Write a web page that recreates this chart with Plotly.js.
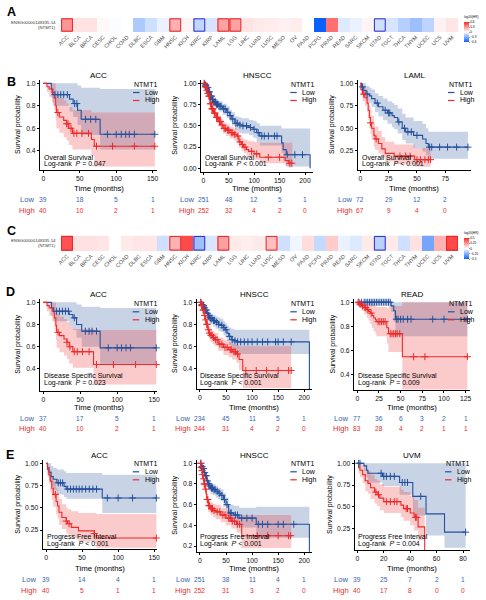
<!DOCTYPE html>
<html><head><meta charset="utf-8">
<script src="https://cdn.plot.ly/plotly-3.0.1.min.js"></script>
<style>body{margin:0;padding:0;background:#fff}#chart{width:486px;height:600px}</style>
</head><body><div id="chart"></div>
<script>
// ---------------- DATA ----------------
const cancers = ['ACC','BLCA','BRCA','CESC','CHOL','COAD','DLBC','ESCA','GBM','HNSC','KICH','KIRC','KIRP','LAML','LGG','LIHC','LUAD','LUSC','MESO','OV','PAAD','PCPG','PRAD','READ','SARC','SKCM','STAD','TGCT','THCA','THYM','UCEC','UCS','UVM'];
const hrA = [0.30,0.08,0.08,0.02,-0.01,0.0,-0.20,-0.12,-0.05,0.22,0.03,-0.15,-0.10,0.26,0.26,0.08,0.06,0.05,0.04,0.05,0.0,-0.60,0.40,-0.08,-0.05,0.03,-0.12,-0.10,-0.18,-0.24,-0.16,0.04,0.07];
const sigA = [1,0,0,0,0,0,0,0,0,1,0,-1,0,1,1,0,0,0,0,0,0,0,0,0,0,0,-1,0,0,0,0,0,0];
const hrC = [0.40,0.07,0.07,0.06,0.0,0.05,0.06,0.06,-0.10,0.18,0.42,-0.20,-0.08,0.22,0.05,0.04,0.05,0.15,-0.10,-0.03,0.08,-0.12,0.12,-0.04,-0.07,0.05,-0.14,0.05,-0.10,0.07,-0.28,0.18,0.42];
const sigC = [1,0,0,0,0,0,0,0,0,1,0,-1,0,1,0,0,0,1,0,0,0,0,0,0,0,0,-1,0,0,0,0,0,1];

// B ACC (Overall Survival)
const bAccLowT = [0,11,13,36,41,47,52,78,153];
const bAccLowS = [1,0.95,0.90,0.86,0.82,0.76,0.68,0.546,0.546];
const bAccLowUp = [1,1,1,1,1,0.98,0.96,0.95,0.95];
const bAccLowLo = [1,0.87,0.80,0.75,0.70,0.63,0.54,0.41,0.41];
const bAccLowCens = [16,20,24,28,33,43,46,58,65,72,88,100,107,113,118,125,153];
const bAccHighT = [0,5,8,12,15,17,18,22,28,32,35,40,66,70,153];
const bAccHighS = [1,0.97,0.95,0.92,0.87,0.80,0.74,0.70,0.67,0.64,0.60,0.555,0.50,0.44,0.44];
const bAccHighUp = [1,1,1,1,1,0.95,0.90,0.87,0.85,0.82,0.79,0.76,0.74,0.74,0.74];
const bAccHighLo = [1,0.92,0.88,0.83,0.76,0.67,0.60,0.56,0.52,0.49,0.45,0.41,0.35,0.26,0.26];
const bAccHighCens = [20,32,34,38,42,46,53,62,73,95,125,153];

// B HNSCC
const bHnLowT = [0,3,6,10,13,17,20,25,30,38,46,52,56,62,70,75,90,98,105,111,154,157,163,210];
const bHnLowS = [1,0.98,0.95,0.90,0.85,0.81,0.78,0.755,0.73,0.70,0.66,0.62,0.58,0.53,0.51,0.50,0.48,0.46,0.42,0.38,0.30,0.22,0.16,0];
const bHnLowUp = [1,1,0.98,0.94,0.90,0.86,0.83,0.81,0.79,0.76,0.73,0.69,0.66,0.61,0.60,0.59,0.57,0.56,0.53,0.50,0.47,0.47,0.47,0.47];
const bHnLowLo = [1,0.96,0.92,0.86,0.80,0.76,0.73,0.70,0.67,0.63,0.59,0.55,0.50,0.45,0.42,0.41,0.39,0.36,0.31,0.27,0.18,0.09,0.02,0.02];
const bHnLowCens = [2,4,5,7,9,11,12,14,15,16,18,19,21,23,24,26,28,31,33,35,40,43,48,53,58,64,67,72,78,85,93,100,108,115,120,128,140,145,165,180,195];
const bHnHighT = [0,3,6,8,10,13,16,20,25,30,35,39,45,52,60,66,70,75,79,85,89,100,111,161,168,175];
const bHnHighS = [1,0.96,0.92,0.88,0.85,0.76,0.70,0.65,0.60,0.55,0.51,0.47,0.45,0.42,0.40,0.38,0.31,0.28,0.25,0.22,0.20,0.17,0.13,0.09,0.06,0.06];
const bHnHighUp = [1,0.98,0.95,0.92,0.89,0.81,0.76,0.71,0.66,0.62,0.58,0.54,0.52,0.49,0.47,0.45,0.39,0.36,0.34,0.33,0.32,0.31,0.30,0.30,0.30,0.30];
const bHnHighLo = [1,0.94,0.89,0.84,0.81,0.71,0.64,0.59,0.54,0.49,0.45,0.41,0.38,0.35,0.33,0.30,0.24,0.21,0.18,0.15,0.13,0.10,0.06,0.03,0.01,0.01];
const bHnHighCens = [2,4,5,7,9,11,12,14,15,17,18,19,22,23,26,28,32,34,37,41,44,48,50,55,58,62,68,72,77,82,95,105,128,150,170,174];

// B LAML
const bLamlLowT = [0,1,3,5,8,10,13,16,20,24,28,30,33,37,40,47,55,58,60,95];
const bLamlLowS = [1,0.96,0.92,0.88,0.86,0.83,0.78,0.74,0.70,0.67,0.64,0.62,0.57,0.50,0.46,0.42,0.38,0.33,0.29,0.29];
const bLamlLowUp = [1,1,1,0.97,0.95,0.93,0.89,0.86,0.83,0.80,0.78,0.76,0.72,0.66,0.62,0.58,0.55,0.50,0.46,0.46];
const bLamlLowLo = [1,0.92,0.86,0.81,0.78,0.74,0.68,0.63,0.59,0.55,0.51,0.49,0.44,0.37,0.33,0.28,0.24,0.20,0.16,0.16];
const bLamlLowCens = [2,6,15,22,25,26,34,39,42,45,50,61,63,70,77,85,95];
const bLamlHighT = [0,0.5,2,4,6,7,8,9,10,12,13,16,19,22,30,48,62];
const bLamlHighS = [1,0.93,0.88,0.84,0.78,0.70,0.62,0.56,0.50,0.42,0.38,0.33,0.27,0.22,0.19,0.15,0.15];
const bLamlHighUp = [1,1,0.97,0.94,0.89,0.82,0.75,0.70,0.64,0.56,0.52,0.47,0.40,0.35,0.32,0.28,0.28];
const bLamlHighLo = [1,0.87,0.80,0.75,0.68,0.59,0.50,0.44,0.38,0.30,0.26,0.22,0.17,0.13,0.10,0.07,0.07];
const bLamlHighCens = [3,9,14,35,40,44,50,53,57,60,62];

// D ACC (Disease Specific Survival)
const dAccLowT = [0,11,14,35,40,45,52,77,153];
const dAccLowS = [1,0.95,0.92,0.89,0.86,0.80,0.74,0.59,0.59];
const dAccLowUp = [1,1,1,1,1,0.98,0.96,0.95,0.95];
const dAccLowLo = [1,0.88,0.83,0.79,0.75,0.68,0.60,0.44,0.44];
const dAccLowCens = [18,22,26,30,34,42,57,62,66,72,88,100,106,112,118,153];
const dAccHighT = [0,5,8,12,15,17,18,22,28,32,35,40,68,153];
const dAccHighS = [1,0.97,0.95,0.92,0.86,0.79,0.73,0.70,0.67,0.64,0.60,0.555,0.44,0.44];
const dAccHighUp = [1,1,1,1,1,0.95,0.90,0.87,0.85,0.82,0.79,0.76,0.75,0.75];
const dAccHighLo = [1,0.92,0.88,0.83,0.75,0.66,0.59,0.55,0.52,0.49,0.45,0.41,0.26,0.26];
const dAccHighCens = [20,32,36,42,46,53,62,72,95,125,153];

// D HNSCC
const dHnLowT = [0,3,5,8,10,13,15,18,20,25,30,35,40,45,48,52,55,60,65,70,210];
const dHnLowS = [1,0.98,0.97,0.95,0.93,0.90,0.88,0.86,0.85,0.835,0.82,0.80,0.79,0.77,0.75,0.72,0.69,0.66,0.65,0.64,0];
const dHnLowUp = [1,1,0.99,0.98,0.96,0.94,0.92,0.91,0.90,0.885,0.87,0.86,0.85,0.83,0.81,0.79,0.77,0.76,0.75,0.75,0.75];
const dHnLowLo = [1,0.96,0.95,0.92,0.90,0.86,0.84,0.81,0.80,0.78,0.76,0.74,0.73,0.70,0.68,0.65,0.61,0.57,0.55,0.53,0.53];
const dHnLowCens = [2,4,6,7,9,11,12,14,16,17,19,21,23,26,28,32,36,42,46,50,57,62,67,72,78,85,92,100,110,120,130,145,150,160,175];
const dHnHighT = [0,2,5,8,10,12,15,17,20,24,28,35,45,55,62,70,75,82,175];
const dHnHighS = [1,0.97,0.93,0.88,0.84,0.80,0.75,0.72,0.70,0.68,0.66,0.62,0.59,0.57,0.55,0.53,0.48,0.38,0.38];
const dHnHighUp = [1,1,0.96,0.92,0.88,0.85,0.80,0.78,0.76,0.74,0.72,0.68,0.66,0.64,0.62,0.61,0.60,0.60,0.60];
const dHnHighLo = [1,0.95,0.90,0.84,0.80,0.75,0.70,0.67,0.64,0.62,0.60,0.56,0.52,0.50,0.48,0.45,0.39,0.22,0.22];
const dHnHighCens = [1,3,4,6,7,9,11,13,14,16,18,21,23,26,30,33,38,42,48,52,58,60,65,68,72,88,108,128,150,170,175];

// D READ
const dReadLowT = [0,39,42,44,127];
const dReadLowS = [1,0.97,0.93,0.86,0.86];
const dReadLowUp = [1,1,1,1,1];
const dReadLowLo = [1,0.92,0.84,0.72,0.72];
const dReadLowCens = [2,5,8,10,12,14,16,18,20,22,24,26,28,30,32,34,36,38,45,47,50,53,58,62,87,100,127];
const dReadHighT = [0,2,5,8,11,13,15,17,19,21,22,34,36,52,127];
const dReadHighS = [1,0.985,0.97,0.955,0.94,0.925,0.91,0.89,0.87,0.855,0.84,0.79,0.74,0.55,0.55];
const dReadHighUp = [1,1,1,1,1,1,1,0.99,0.98,0.97,0.96,0.95,0.97,1,1];
const dReadHighLo = [1,0.96,0.93,0.90,0.87,0.85,0.82,0.79,0.76,0.74,0.72,0.66,0.59,0.28,0.28];
const dReadHighCens = [1,3,4,6,9,10,12,16,24,26,28,30,32,38,40,42,44,46,49,65,78,127];

// E ACC (Progress Free Interval)
const eAccLowT = [0,2,4,7,10,15,25,28,78,153];
const eAccLowS = [1,0.95,0.90,0.85,0.82,0.78,0.74,0.71,0.61,0.61];
const eAccLowUp = [1,1,1,0.97,0.95,0.93,0.91,0.89,0.87,0.87];
const eAccLowLo = [1,0.88,0.81,0.74,0.70,0.65,0.62,0.60,0.44,0.44];
const eAccLowCens = [17,20,23,30,34,38,42,46,50,55,60,65,70,85,100,120,153];
const eAccHighT = [0,2,4,6,8,10,14,16,18,22,28,30,35,45,67,70,153];
const eAccHighS = [1,0.93,0.87,0.80,0.72,0.65,0.57,0.52,0.45,0.39,0.35,0.32,0.28,0.24,0.21,0.16,0.16];
const eAccHighUp = [1,1,0.97,0.92,0.86,0.80,0.72,0.66,0.60,0.54,0.50,0.48,0.46,0.44,0.44,0.43,0.43];
const eAccHighLo = [1,0.85,0.77,0.68,0.59,0.51,0.43,0.38,0.31,0.26,0.22,0.20,0.16,0.12,0.10,0.05,0.05];
const eAccHighCens = [13,28,32,67,153];

// E HNSCC
const eHnLowT = [0,3,5,8,10,13,15,18,20,25,30,35,40,45,50,55,65,75,108,210];
const eHnLowS = [1,0.97,0.95,0.91,0.88,0.83,0.80,0.78,0.76,0.745,0.73,0.71,0.69,0.65,0.60,0.52,0.50,0.47,0.41,0];
const eHnLowUp = [1,1,0.98,0.95,0.92,0.88,0.85,0.83,0.81,0.80,0.78,0.76,0.75,0.71,0.67,0.60,0.59,0.57,0.58,0.58];
const eHnLowLo = [1,0.95,0.92,0.87,0.83,0.78,0.75,0.73,0.70,0.69,0.67,0.65,0.63,0.58,0.53,0.44,0.41,0.38,0.28,0.28];
const eHnLowCens = [2,4,6,7,9,11,12,14,16,17,19,22,24,27,29,33,37,42,47,52,58,60,68,72,80,90,100,112,120,130,150,160,180];
const eHnHighT = [0,2,3,5,6,8,10,12,13,16,20,25,30,40,50,60,70,80,175];
const eHnHighS = [1,0.96,0.93,0.89,0.85,0.80,0.75,0.70,0.65,0.59,0.56,0.545,0.53,0.50,0.47,0.44,0.41,0.30,0.30];
const eHnHighUp = [1,1,0.97,0.93,0.90,0.85,0.80,0.75,0.71,0.65,0.62,0.61,0.60,0.57,0.54,0.51,0.49,0.50,0.50];
const eHnHighLo = [1,0.92,0.89,0.85,0.80,0.75,0.70,0.65,0.59,0.53,0.50,0.48,0.46,0.43,0.40,0.37,0.33,0.18,0.18];
const eHnHighCens = [1,2,4,5,7,8,9,11,14,15,17,18,22,24,27,33,38,44,48,55,58,62,66,72,76,110,130,150,170,174];

// E UVM
const eUvmLowT = [0,5,7,8,19,32,42,52,66,82];
const eUvmLowS = [1,0.97,0.92,0.886,0.85,0.78,0.62,0.42,0.21,0.21];
const eUvmLowUp = [1,1,1,1,1,1,1,1,1,1];
const eUvmLowLo = [1,0.91,0.84,0.78,0.74,0.64,0.40,0.17,0.03,0.03];
const eUvmLowCens = [1,2,18,20,22,25,28,34,36,38,48,82];
const eUvmHighT = [0,1,2,4,6,8,10,13,15,17,20,33,35,40,43,46,51];
const eUvmHighS = [1,0.95,0.92,0.87,0.80,0.77,0.72,0.67,0.64,0.60,0.56,0.52,0.48,0.43,0.38,0.27,0];
const eUvmHighUp = [1,1,1,0.98,0.93,0.91,0.87,0.82,0.80,0.76,0.73,0.70,0.67,0.63,0.58,0.49,0.49];
const eUvmHighLo = [1,0.88,0.84,0.77,0.68,0.65,0.59,0.54,0.51,0.46,0.43,0.38,0.34,0.29,0.23,0.12,0.12];
const eUvmHighCens = [14,16,22,25,28,30,37,38,44,45];

// Risk tables (number at risk)
const riskTimeAcc = [0,50,100,150];
const riskTimeHnscc = [0,50,100,150,200];
const riskTimeLaml = [0,25,50,75];
const riskTimeRead = [0,25,50,75,100,125];
const riskTimeUvm = [0,20,40,60,80];
const bAccRiskLow = [39,18,5,1], bAccRiskHigh = [40,10,2,1];
const bHnRiskLow = [251,48,12,5,1], bHnRiskHigh = [252,32,4,2,0];
const bLamlRiskLow = [72,29,12,2], bLamlRiskHigh = [67,9,4,0];
const dAccRiskLow = [37,17,5,1], dAccRiskHigh = [40,10,2,1];
const dHnRiskLow = [234,45,11,5,1], dHnRiskHigh = [244,31,4,2,0];
const dReadRiskLow = [77,36,6,3,2,1], dReadRiskHigh = [83,28,4,2,1,1];
const eAccRiskLow = [39,14,4,1], eAccRiskHigh = [40,5,1,1];
const eHnRiskLow = [251,38,11,4,1], eHnRiskHigh = [252,31,3,2,0];
const eUvmRiskLow = [39,25,7,2,1], eUvmRiskHigh = [40,17,8,0,0];

const pValues = ['= 0.047','< 0.001','< 0.001','= 0.023','< 0.001','= 0.009','< 0.001','< 0.001','= 0.004'];
const endpoints = ['Overall Survival','Disease Specific Survival','Progress Free Interval'];

// ---------------- DRAWING ----------------
const W=486,H=600;
const fx=p=>p/W, fy=p=>1-p/H;
const FONT='Liberation Sans, Arial, sans-serif';
const BLUE='#24509c', RED='#ee2a2a', BLUET='#3a64b0';
const BLUEF='rgba(36,80,156,0.25)', REDF='rgba(238,42,42,0.25)';

const traces=[], shapes=[], ann=[];
const layout={width:W,height:H,margin:{l:0,r:0,t:0,b:0},paper_bgcolor:'#fff',plot_bgcolor:'rgba(0,0,0,0)',showlegend:false,font:{family:FONT,color:'#000'}};

function txt(x,y,text,size,opts){ann.push(Object.assign({xref:'paper',yref:'paper',x:fx(x),y:fy(y),text:text,showarrow:false,font:{family:FONT,size:size,color:'#000'},xanchor:'center',yanchor:'middle'},opts||{}));}

// Heatmaps
const CS=[[0,'rgb(10,95,255)'],[0.5,'rgb(255,255,255)'],[1,'rgb(255,40,40)']];
function heat(idx,vals,sig,top,bot,zr,cbTop,cbBot,cbTicks){
  const xa='xaxis'+(idx===1?'':idx), ya='yaxis'+(idx===1?'':idx);
  const xr='x'+(idx===1?'':idx), yr='y'+(idx===1?'':idx);
  const xs=cancers.map((c,i)=>i);
  traces.push({type:'heatmap',x:xs,y:[0],z:[vals],xaxis:xr,yaxis:yr,zmin:-zr,zmax:zr,colorscale:CS,hoverinfo:'skip',
    colorbar:{x:fx(464),xanchor:'left',y:fy((cbTop+cbBot)/2),yanchor:'middle',len:cbBot-cbTop,lenmode:'pixels',thickness:5,thicknessmode:'pixels',outlinewidth:0,xpad:0,ypad:0,ticklen:1,tickwidth:0.5,tickvals:cbTicks,tickfont:{size:3.2,family:FONT},title:{text:'log10(HR)',side:'top',font:{size:3.2,family:FONT}}}});
  layout[xa]={domain:[fx(61),fx(458)],range:[-0.5,cancers.length-0.5],tickvals:xs,ticktext:cancers,tickangle:-45,tickfont:{size:5.5,color:'#4d4d4d',family:FONT},ticks:'',showline:false,showgrid:false,zeroline:false,anchor:yr,fixedrange:true};
  layout[ya]={domain:[fy(bot),fy(top)],range:[-0.5,0.5],showticklabels:false,ticks:'',showgrid:false,zeroline:false,showline:false,anchor:xr,fixedrange:true};
  sig.forEach((s,i)=>{ if(s!==0) shapes.push({type:'rect',xref:xr,yref:yr,x0:i-0.45,x1:i+0.45,y0:-0.44,y1:0.44,line:{color:s>0?'#e5262a':'#2a2ad0',width:1}}); });
  txt(58,(top+bot)/2-2.5,'ENSG00000148335.14',4.3,{xanchor:'right',font:{family:FONT,size:4.3,color:'#333'}});
  txt(58,(top+bot)/2+2.5,'(NTMT1)',4.3,{xanchor:'right',font:{family:FONT,size:4.3,color:'#333'}});
}
heat(1,hrA,sigA,18,32,0.6,13,42,[-0.6,-0.3,0,0.3,0.6]);
heat(2,hrC,sigC,235.5,251,0.5,229,259,[-0.5,-0.25,0,0.25,0.5]);

const panels=[
 {title:'ACC',ep:0,lT:bAccLowT,lS:bAccLowS,lU:bAccLowUp,lL:bAccLowLo,lC:bAccLowCens,hT:bAccHighT,hS:bAccHighS,hU:bAccHighUp,hL:bAccHighLo,hC:bAccHighCens,rT:riskTimeAcc,rL:bAccRiskLow,rH:bAccRiskHigh,
  dom:[40,157,80,170],xr:[-4.5,156],yr:[0.228,1.03],xt:riskTimeAcc,yt:[0.4,0.6,0.8,1.0],yf:'.1f',ty:75,leg:[132,84],pt:[42,157,164],yl:18,xl:188,rk:[27,199,210]},
 {title:'HNSCC',ep:0,lT:bHnLowT,lS:bHnLowS,lU:bHnLowUp,lL:bHnLowLo,lC:bHnLowCens,hT:bHnHighT,hS:bHnHighS,hU:bHnHighUp,hL:bHnHighLo,hC:bHnHighCens,rT:riskTimeHnscc,rL:bHnRiskLow,rH:bHnRiskHigh,
  dom:[201,313,80,171.7],xr:[-4.5,215.7],yr:[-0.04,1.04],xt:riskTimeHnscc,yt:[0,0.25,0.5,0.75,1],yf:'.2f',ty:75,leg:[289.3,84],pt:[202.7,157,164],yl:175,xl:188,rk:[187,199,210]},
 {title:'LAML',ep:0,lT:bLamlLowT,lS:bLamlLowS,lU:bLamlLowUp,lL:bLamlLowLo,lC:bLamlLowCens,hT:bLamlHighT,hS:bLamlHighS,hU:bLamlHighUp,hL:bLamlHighLo,hC:bLamlHighCens,rT:riskTimeLaml,rL:bLamlRiskLow,rH:bLamlRiskHigh,
  dom:[357.7,471,80,170],xr:[-2.3,97.7],yr:[0.035,1.037],xt:riskTimeLaml,yt:[0.25,0.5,0.75,1],yf:'.2f',ty:75,leg:[447,84],pt:[360.3,157,164],yl:332,xl:188,rk:[345,199,210]},
 {title:'ACC',ep:1,lT:dAccLowT,lS:dAccLowS,lU:dAccLowUp,lL:dAccLowLo,lC:dAccLowCens,hT:dAccHighT,hS:dAccHighS,hU:dAccHighUp,hL:dAccHighLo,hC:dAccHighCens,rT:riskTimeAcc,rL:dAccRiskLow,rH:dAccRiskHigh,
  dom:[40,157,299,390.7],xr:[-4.5,154],yr:[0.204,1.03],xt:riskTimeAcc,yt:[0.4,0.6,0.8,1.0],yf:'.1f',ty:294,leg:[131.7,303.3],pt:[42,376,383],yl:18,xl:407,rk:[27,418.3,428.5]},
 {title:'HNSCC',ep:1,lT:dHnLowT,lS:dHnLowS,lU:dHnLowUp,lL:dHnLowLo,lC:dHnLowCens,hT:dHnHighT,hS:dHnHighS,hU:dHnHighUp,hL:dHnHighLo,hC:dHnHighCens,rT:riskTimeHnscc,rL:dHnRiskLow,rH:dHnRiskHigh,
  dom:[196.7,312,299,389],xr:[-6.3,215],yr:[0.212,1.03],xt:riskTimeHnscc,yt:[0.4,0.6,0.8,1.0],yf:'.1f',ty:294,leg:[289.3,303.3],pt:[198,376,383],yl:175,xl:407,rk:[183,418.3,428.5]},
 {title:'READ',ep:1,lT:dReadLowT,lS:dReadLowS,lU:dReadLowUp,lL:dReadLowLo,lC:dReadLowCens,hT:dReadHighT,hS:dReadHighS,hU:dReadHighUp,hL:dReadHighLo,hC:dReadHighCens,rT:riskTimeRead,rL:dReadRiskLow,rH:dReadRiskHigh,
  dom:[354,470,299,390],xr:[-3.8,130],yr:[0.275,1.027],xt:riskTimeRead,yt:[0.4,0.6,0.8,1.0],yf:'.1f',ty:294,leg:[447,303.3],pt:[356,376,383],yl:332,xl:407,rk:[341,418.3,428.5]},
 {title:'ACC',ep:2,lT:eAccLowT,lS:eAccLowS,lU:eAccLowUp,lL:eAccLowLo,lC:eAccLowCens,hT:eAccHighT,hS:eAccHighS,hU:eAccHighUp,hL:eAccHighLo,hC:eAccHighCens,rT:riskTimeAcc,rL:eAccRiskLow,rH:eAccRiskHigh,
  dom:[42.7,157,460,549.3],xr:[-4.6,153.9],yr:[0.033,1.037],xt:riskTimeAcc,yt:[0.25,0.5,0.75,1],yf:'.2f',ty:455,leg:[131.7,463.3],pt:[45,537,544],yl:18,xl:568,rk:[29,579,590]},
 {title:'HNSCC',ep:2,lT:eHnLowT,lS:eHnLowS,lU:eHnLowUp,lL:eHnLowLo,lC:eHnLowCens,hT:eHnHighT,hS:eHnHighS,hU:eHnHighUp,hL:eHnHighLo,hC:eHnHighCens,rT:riskTimeHnscc,rL:eHnRiskLow,rH:eHnRiskHigh,
  dom:[196.7,312,460,551.7],xr:[-6.3,215],yr:[0.145,1.032],xt:riskTimeHnscc,yt:[0.2,0.4,0.6,0.8,1.0],yf:'.1f',ty:455,leg:[289.3,463.3],pt:[198,537,543.5],yl:175,xl:568.5,rk:[183,579,590]},
 {title:'UVM',ep:2,lT:eUvmLowT,lS:eUvmLowS,lU:eUvmLowUp,lL:eUvmLowLo,lC:eUvmLowCens,hT:eUvmHighT,hS:eUvmHighS,hU:eUvmHighUp,hL:eUvmHighLo,hC:eUvmHighCens,rT:riskTimeUvm,rL:eUvmRiskLow,rH:eUvmRiskHigh,
  dom:[354.7,470,460,550],xr:[-2,85.3],yr:[0.005,1.038],xt:riskTimeUvm,yt:[0.25,0.5,0.75,1],yf:'.2f',ty:455,leg:[444,463.3],pt:[356,537,544],yl:330,xl:568,rk:[341,579,590]}
];

function stepAt(T,S,t){let v=S[0];for(let i=0;i<T.length;i++){if(T[i]<=t)v=S[i];}return v;}

panels.forEach((p,k)=>{
  const n=k+3, xr='x'+n, yr='y'+n;
  const axBase={showline:true,linecolor:'#000',linewidth:1,ticks:'outside',ticklen:2,tickwidth:1,tickcolor:'#000',showgrid:false,zeroline:false,tickfont:{family:FONT,size:6.8,color:'#111'},fixedrange:true};
  layout['xaxis'+n]=Object.assign({},axBase,{domain:[fx(p.dom[0]),fx(p.dom[1])],range:p.xr,tickvals:p.xt,anchor:yr});
  layout['yaxis'+n]=Object.assign({},axBase,{domain:[fy(p.dom[3]),fy(p.dom[2])],range:p.yr,tickvals:p.yt,tickformat:p.yf,anchor:xr});
  // CI bands
  [[p.lT,p.lL,p.lU,BLUEF],[p.hT,p.hL,p.hU,REDF]].forEach(b=>{
    traces.push({type:'scatter',mode:'lines',x:b[0],y:b[1],xaxis:xr,yaxis:yr,line:{width:0,shape:'hv'},hoverinfo:'skip'});
    traces.push({type:'scatter',mode:'lines',x:b[0],y:b[2],xaxis:xr,yaxis:yr,line:{width:0,shape:'hv'},fill:'tonexty',fillcolor:b[3],hoverinfo:'skip'});
  });
  // survival curves
  [[p.lT,p.lS,BLUE],[p.hT,p.hS,RED]].forEach(c=>{
    traces.push({type:'scatter',mode:'lines',x:c[0],y:c[1],xaxis:xr,yaxis:yr,line:{width:1.1,shape:'hv',color:c[2]},hoverinfo:'skip'});
  });
  // censor marks
  [[p.lT,p.lS,p.lC,BLUE],[p.hT,p.hS,p.hC,RED]].forEach(c=>{
    traces.push({type:'scatter',mode:'markers',x:c[2],y:c[2].map(t=>stepAt(c[0],c[1],t)),xaxis:xr,yaxis:yr,
      marker:{symbol:'cross-thin-open',size:5,color:c[3],line:{width:1,color:c[3]}},hoverinfo:'skip',cliponaxis:false});
  });
  const cx=(p.dom[0]+p.dom[1])/2;
  txt(cx,p.ty,p.title,8);
  // legend
  const lx=p.leg[0], ly=p.leg[1];
  txt(lx,ly,'NTMT1',7,{xanchor:'left'});
  shapes.push({type:'line',xref:'paper',yref:'paper',x0:fx(lx+1),x1:fx(lx+7.5),y0:fy(ly+8.5),y1:fy(ly+8.5),line:{color:BLUE,width:1.2}});
  shapes.push({type:'line',xref:'paper',yref:'paper',x0:fx(lx+1),x1:fx(lx+7.5),y0:fy(ly+16.5),y1:fy(ly+16.5),line:{color:RED,width:1.2}});
  txt(lx+11,ly+8.5,'Low',7,{xanchor:'left'});
  txt(lx+11,ly+16.5,'High',7,{xanchor:'left'});
  // endpoint + p-value
  txt(p.pt[0],p.pt[1],endpoints[p.ep],7,{xanchor:'left'});
  txt(p.pt[0],p.pt[2],'Log-rank  <i>P</i> '+pValues[k],7,{xanchor:'left'});
  // axis titles
  txt(p.yl,(p.dom[2]+p.dom[3])/2,'Survival probability',7,{textangle:-90});
  txt(cx,p.xl,'Time (months)',7.8);
  // risk table
  txt(p.rk[0],p.rk[1],'Low',7.6,{font:{family:FONT,size:7.6,color:BLUET}});
  txt(p.rk[0],p.rk[2],'High',7.6,{font:{family:FONT,size:7.6,color:RED}});
  p.rT.forEach((t,i)=>{
    ann.push({xref:xr,yref:'paper',x:t,y:fy(p.rk[1]),text:String(p.rL[i]),showarrow:false,font:{family:FONT,size:6.6,color:BLUET},xanchor:'center',yanchor:'middle'});
    ann.push({xref:xr,yref:'paper',x:t,y:fy(p.rk[2]),text:String(p.rH[i]),showarrow:false,font:{family:FONT,size:6.6,color:RED},xanchor:'center',yanchor:'middle'});
  });
});

// panel letters
[['A',11,12],['B',11,82],['C',11,231],['D',10,292],['E',10,455]].forEach(l=>txt(l[1],l[2],'<b>'+l[0]+'</b>',12.5));

layout.shapes=shapes;
layout.annotations=ann;
Plotly.newPlot('chart',traces,layout,{staticPlot:true,displayModeBar:false});
</script>
</body></html>
